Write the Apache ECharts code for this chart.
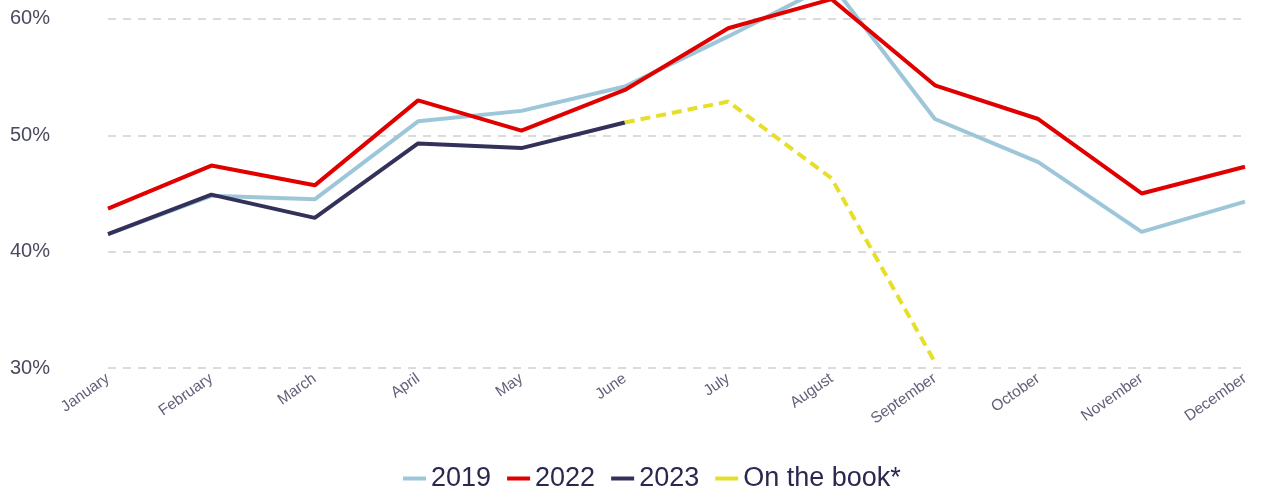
<html>
    <head>
        <meta charset="utf-8">
        <script src='https://cdn.jsdelivr.net/npm/echarts@6/dist/echarts.min.js'></script>
    </head>
    <body>
        <style>
            html, body, #main {
                width: 100%;
                height: 100%;
                margin: 0;
                background: #fff;
            }
        </style>
        <div id='main'></div>
        <script>
            var months = ['January', 'February', 'March', 'April', 'May', 'June',
                'July', 'August', 'September', 'October', 'November', 'December'];
            var y2019 = [41.5, 44.8, 44.5, 51.2, 52.1, 54.2, 58.5, 63.0, 51.4, 47.7, 41.7, 44.3];
            var y2022 = [43.7, 47.4, 45.7, 53.0, 50.4, 53.9, 59.2, 61.7, 54.3, 51.4, 45.0, 47.3];
            var y2023 = [41.5, 44.9, 42.9, 49.3, 48.9, 51.1];
            var onTheBook = [null, null, null, null, null, 51.1, 52.9, 46.3, 30.5];

            var chart = echarts.init(document.getElementById('main'));

            var option = {
                animation: false,
                grid: {
                    left: 108,
                    right: 23,
                    top: 0,
                    bottom: 124,
                    containLabel: false
                },
                legend: {
                    bottom: 0,
                    left: 403,
                    padding: 0,
                    itemWidth: 23,
                    itemHeight: 4,
                    itemGap: 16,
                    icon: 'rect',
                    textStyle: {
                        fontFamily: 'Liberation Sans, Arial',
                        fontSize: 27,
                        color: '#2b2850'
                    },
                    data: ['2019', '2022', '2023', 'On the book*']
                },
                xAxis: {
                    type: 'category',
                    data: months,
                    boundaryGap: false,
                    axisLine: { show: false },
                    axisTick: { show: false },
                    axisLabel: {
                        rotate: 35,
                        margin: 9,
                        fontFamily: 'Liberation Sans, Arial',
                        fontSize: 15.5,
                        color: '#62617a'
                    }
                },
                yAxis: {
                    type: 'value',
                    min: 30,
                    max: 61.63,
                    interval: 10,
                    axisLine: { show: false },
                    axisTick: { show: false },
                    axisLabel: {
                        margin: 58,
                        fontFamily: 'Liberation Sans, Arial',
                        fontSize: 20,
                        color: '#4a4a5e',
                        showMaxLabel: false,
                        formatter: function (v) {
                            return v % 10 === 0 ? v + '%' : '';
                        }
                    },
                    splitLine: {
                        showMaxLine: false,
                        lineStyle: {
                            color: '#cfcfcf',
                            type: [8, 7],
                            width: 1.5
                        }
                    }
                },
                series: [
                    {
                        name: '2019',
                        type: 'line',
                        data: y2019,
                        symbol: 'none',
                        lineStyle: { color: '#9dc7d8', width: 4 },
                        itemStyle: { color: '#9dc7d8' }
                    },
                    {
                        name: '2022',
                        type: 'line',
                        data: y2022,
                        symbol: 'none',
                        lineStyle: { color: '#e00000', width: 4 },
                        itemStyle: { color: '#e00000' }
                    },
                    {
                        name: '2023',
                        type: 'line',
                        data: y2023,
                        symbol: 'none',
                        lineStyle: { color: '#33315a', width: 4 },
                        itemStyle: { color: '#33315a' }
                    },
                    {
                        name: 'On the book*',
                        type: 'line',
                        data: onTheBook,
                        symbol: 'none',
                        lineStyle: { color: '#e6df2a', width: 4, type: [10, 6] },
                        itemStyle: { color: '#e6df2a' }
                    }
                ]
            };

            chart.setOption(option);

            window.onresize = function () {
                chart.resize();
            }
        </script>
    </body>
</html>
